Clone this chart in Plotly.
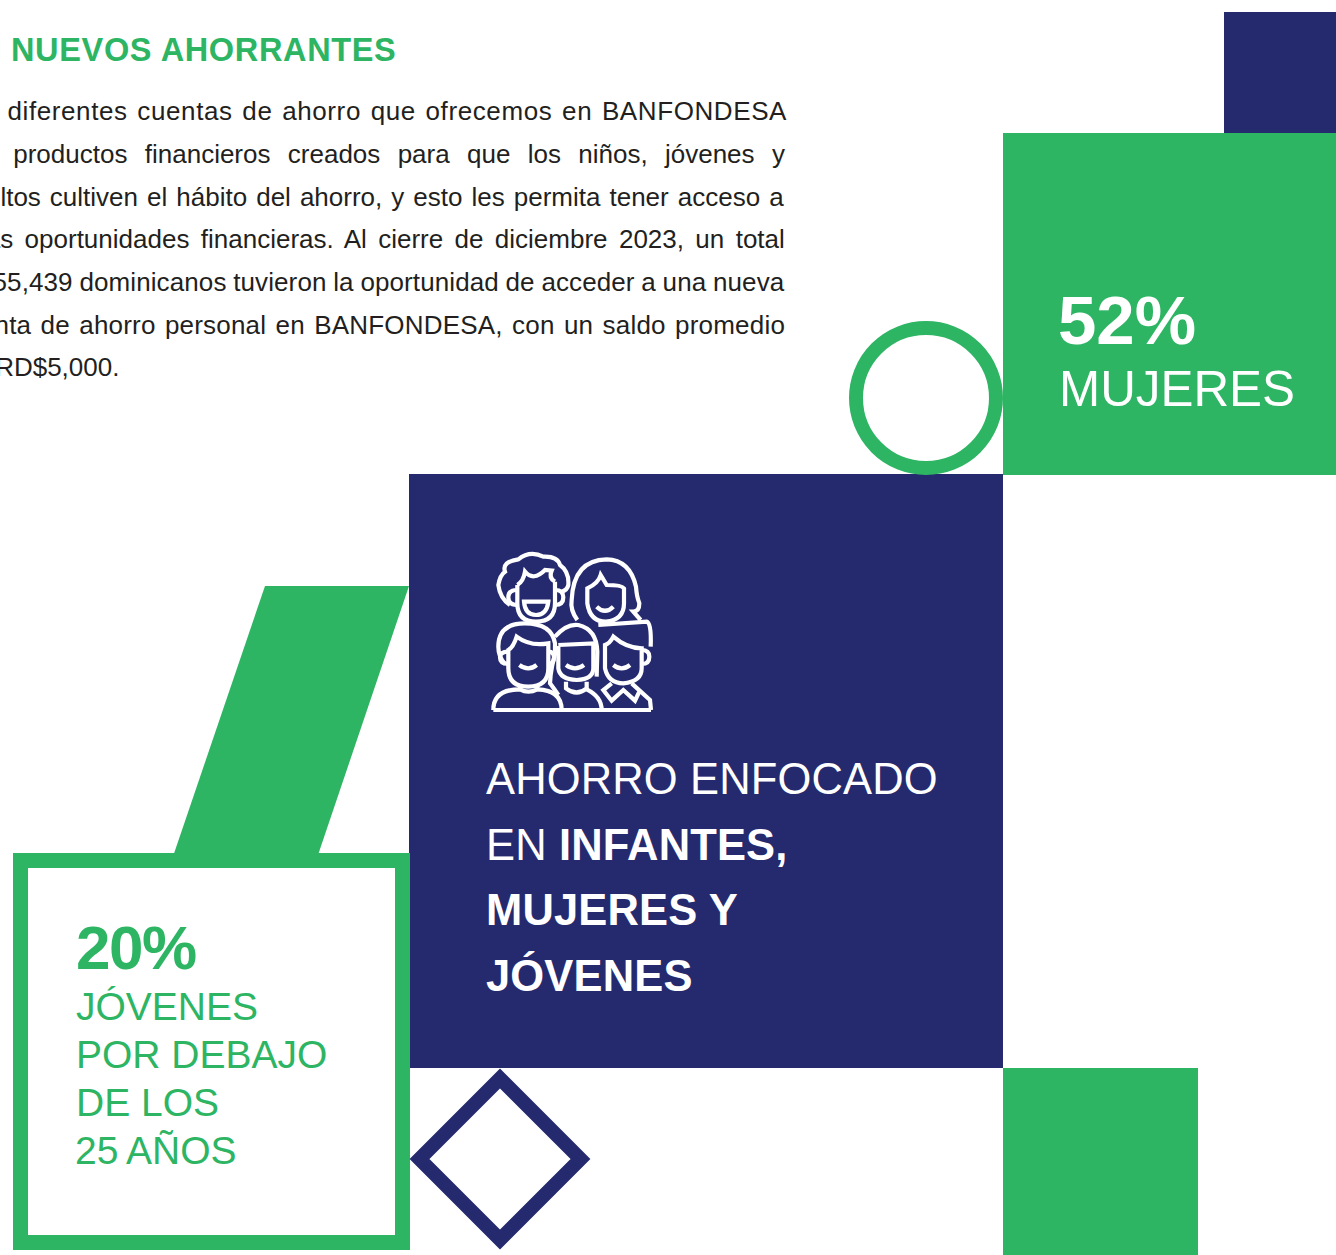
import re
import plotly.graph_objects as go

NAVY = "#252A6F"
GREEN = "#2DB563"
INK = "#231F20"
WHITE = "#FFFFFF"
FONT = "Liberation Sans"

title_text = "NUEVOS AHORRANTES"
body_lines = [
    "Las diferentes cuentas de ahorro que ofrecemos en BANFONDESA",
    "son productos financieros creados para que los niños, jóvenes y",
    "adultos cultiven el hábito del ahorro, y esto les permita tener acceso a",
    "las oportunidades financieras. Al cierre de diciembre 2023, un total",
    "155,439 dominicanos tuvieron la oportunidad de acceder a una nueva",
    "cuenta de ahorro personal en BANFONDESA, con un saldo promedio",
    "de RD$5,000.",
]
body_right = [787, 785, 784, 785, 785, 785, 119]
body_baseline = [120, 163, 206, 248, 291, 334, 376]
body_wordgap = [1.9, 10.1, 1.8, 4.15, -0.6, 1.9, 0]
body_lettergap = [0.6, 0, 0, 0, 0.1, 0.2, 0]

stat_women = ["52%", "MUJERES"]
stat_youth = ["20%", "JÓVENES", "POR DEBAJO", "DE LOS", "25 AÑOS"]
focus_lines = ["AHORRO ENFOCADO", "EN <b>INFANTES,</b>", "<b>MUJERES Y</b>", "<b>JÓVENES</b>"]

# icon strokes, drawn in a local 570x555 box placed over the navy panel
icon_paths = [
    # person 1: curly hair, laughing
    "M90,195 Q60,175 55,135 Q60,105 75,95 Q65,65 115,58 Q150,30 190,50 Q232,48 240,75 Q268,95 265,135 Q262,150 245,155",
    "M112,135 L112,190 Q112,245 168,245 Q225,245 225,190 L225,125",
    "M112,135 Q130,125 135,95 Q160,125 195,90 L215,92 Q205,115 225,125",
    "M112,150 Q85,150 85,172 Q85,195 112,195",
    "M225,150 Q250,150 250,172 Q250,195 225,195",
    "M132,185 L205,185 Q200,225 168,225 Q135,225 132,185 Z",
    # person 2: long hair
    "M292,240 Q270,210 275,180 Q280,60 380,58 Q450,60 468,140 Q470,170 478,190 Q478,215 460,215 L482,240",
    "M322,145 L322,190 Q330,245 378,245 Q432,240 432,190 L432,145 Q425,135 380,135 L362,105 Q355,130 322,145 Z",
    "M350,200 Q375,225 400,200",
    # person 3: front left
    "M75,372 Q55,350 55,320 Q55,250 135,250 Q215,250 225,310 L225,335",
    "M85,330 L85,385 Q85,440 145,440 Q205,440 205,385 L205,310 Q150,320 110,290 Q100,322 85,330 Z",
    "M85,335 Q60,335 60,352 Q60,372 85,372",
    "M205,335 Q222,335 222,352 Q222,372 205,372",
    "M118,375 Q145,395 170,375",
    "M120,440 L120,448 M172,438 L172,448",
    "M40,510 Q40,448 120,448 Q145,462 172,448 Q245,450 245,510",
    # person 4: front middle
    "M225,290 Q260,250 295,255 Q350,268 352,335 L350,410",
    "M235,318 L235,385 Q240,418 290,420 Q340,418 340,385 L340,310 L235,315",
    "M258,375 Q285,395 312,375",
    "M258,425 L258,445 Q290,470 320,445 L320,425",
    "M232,320 Q212,380 210,430 Q225,450 235,465",
    "M320,448 Q365,470 365,510",
    # person 5: front right
    "M355,255 L500,245 Q515,248 512,320",
    "M375,315 L375,385 Q385,430 430,430 Q485,425 485,385 L485,325 Q440,325 400,290 Q390,310 375,315 Z",
    "M485,330 Q508,330 508,350 Q508,372 485,372",
    "M400,375 Q425,395 450,375",
    "M395,430 L370,450 L395,482 L430,450 L465,482 L478,455",
    "M455,430 L510,480 L513,510",
    "M40,510 L513,510",
]
ICON_LEFT, ICON_TOP, ICON_SCALE = 480, 540, 1 / 3


def place(path):
    toks = re.findall(r"[MLQZ]|-?\d+\.?\d*,-?\d+\.?\d*", path)
    out = []
    for t in toks:
        if "," in t:
            a, b = map(float, t.split(","))
            out.append(f"{ICON_LEFT + a * ICON_SCALE:.2f},{ICON_TOP + b * ICON_SCALE:.2f}")
        else:
            out.append(t)
    return " ".join(out)


fig = go.Figure()
fig.add_trace(go.Scatter(x=[0], y=[0], mode="markers", marker=dict(opacity=0), hoverinfo="skip", showlegend=False))


def rect(x0, y0, x1, y1, fill, line=None, w=0):
    fig.add_shape(type="rect", x0=x0, y0=y0, x1=x1, y1=y1, fillcolor=fill,
                  line=dict(color=line or fill, width=w), xref="x", yref="y")


def poly(path, fill="rgba(0,0,0,0)", line=None, w=0):
    fig.add_shape(type="path", path=path, fillcolor=fill,
                  line=dict(color=line or fill, width=w), xref="x", yref="y")


rect(1224, 12, 1336, 133, NAVY)
rect(1003, 133, 1336, 475, GREEN)
rect(409, 474, 1003, 1068, NAVY)
rect(1003, 1068, 1198, 1255, GREEN)
poly("M265,586 L409,586 L318,855 L173.5,855 Z", GREEN)
rect(20.5, 860.5, 402.5, 1242.5, WHITE, GREEN, 15)
fig.add_shape(type="circle", x0=856, y0=328, x1=996, y1=468, fillcolor=WHITE,
              line=dict(color=GREEN, width=14), xref="x", yref="y")
poly("M500,1078.5 L580.5,1159 L500,1239.5 L419.5,1159 Z", WHITE, NAVY, 14)
for p in icon_paths:
    poly(place(p), "rgba(0,0,0,0)", WHITE, 4.2)


def label(text, x, baseline, size, color, anchor="left", bold=False, spacing=0, word=0):
    style = []
    if spacing:
        style.append(f"letter-spacing:{spacing}px")
    if word:
        style.append(f"word-spacing:{word}px")
    t = f"<b>{text}</b>" if bold else text
    if style:
        t = f'<span style="{";".join(style)}">{t}</span>'
    fig.add_annotation(text=t, x=x, y=baseline - 0.905 * size, xref="x", yref="y", xanchor=anchor, yanchor="top",
                       showarrow=False, borderpad=0, borderwidth=0, align=anchor,
                       font=dict(family=FONT, size=size, color=color))


label(title_text, 11, 61, 32.5, GREEN, bold=True, spacing=0.65)
for line, r, b, wg, lg in zip(body_lines, body_right, body_baseline, body_wordgap, body_lettergap):
    label(line, r, b, 26, INK, anchor="right", spacing=lg, word=wg)
label(stat_women[0], 1058, 344, 69, WHITE, bold=True)
label(stat_women[1], 1059, 406, 49.4, WHITE)
for line, b in zip(focus_lines, [794, 860, 925, 990]):
    label(line, 486, b, 43.5, WHITE, spacing=0.15)
label(stat_youth[0], 75.5, 969, 62, GREEN, bold=True, spacing=-1.5)
for line, b, x, w in zip(stat_youth[1:], [1020, 1068, 1116, 1164], [76, 76, 76, 75], [0, 0, 0, -1]):
    label(line, x, b, 39, GREEN, word=w)

fig.update_layout(
    width=1336, height=1255, margin=dict(l=0, r=0, t=0, b=0),
    paper_bgcolor=WHITE, plot_bgcolor=WHITE, showlegend=False,
    xaxis=dict(visible=False, range=[0, 1336], fixedrange=True),
    yaxis=dict(visible=False, range=[1255, 0], fixedrange=True),
)
fig.write_html("out.html", post_script="document.body.style.margin='0';window.dispatchEvent(new Event('resize'));",
               config={"displayModeBar": False})
